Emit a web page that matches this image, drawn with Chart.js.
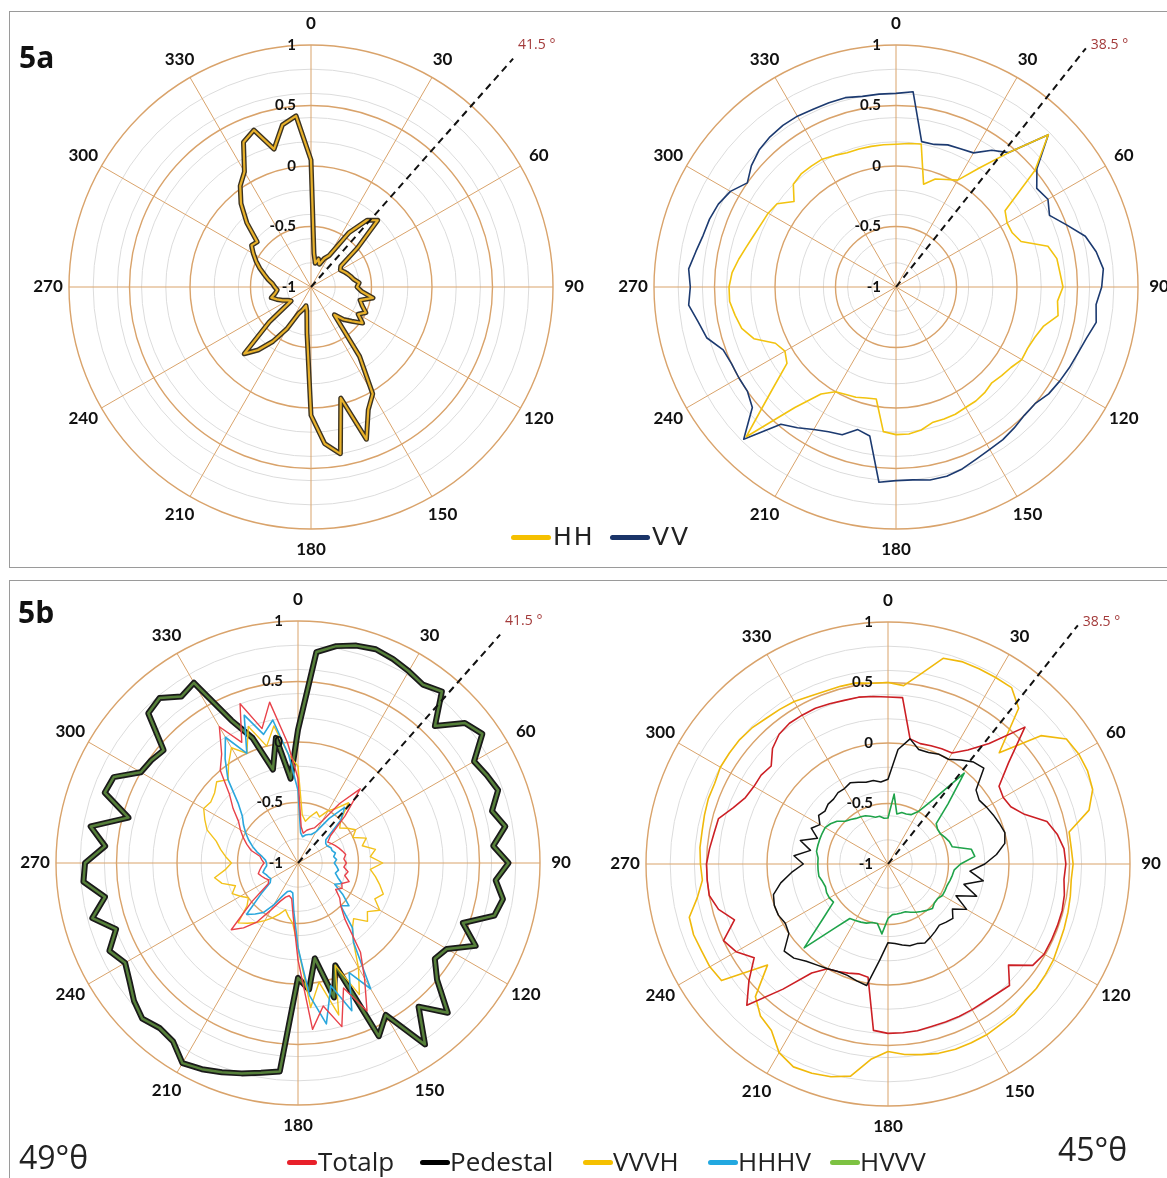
<!DOCTYPE html>
<html>
<head>
<meta charset="utf-8">
<script src="https://cdn.jsdelivr.net/npm/chart.js@4.4.0/dist/chart.umd.min.js"></script>
<style>
  body { margin: 0; width: 1167px; height: 1178px; overflow: hidden; background: #fff; position: relative; font-family: 'Open Sans', sans-serif; }
  .panel { position: absolute; border: 1px solid #9a9a9a; }
  canvas { position: absolute; }
  .tag { position: absolute; font-weight: 700; font-size: 30px; line-height: 1; color: #111; }
  .mk { position: absolute; height: 5px; border-radius: 3px; }
  .lgA { position: absolute; font-family: 'DejaVu Sans'; font-size: 25px; line-height: 1; letter-spacing: 2px; color: #222; }
  .lgB { position: absolute; font-size: 26px; line-height: 1; color: #222; }
  .theta { position: absolute; font-size: 32px; line-height: 1; color: #222; }
</style>
</head>
<body>
<div class="panel" style="left:9px;top:11px;width:1157px;height:555px"></div>
<div class="panel" style="left:9px;top:580px;width:1157px;height:620px"></div>

<canvas id="c5aLeft" width="560" height="560" style="left:31px;top:7px"></canvas>
<canvas id="c5aRight" width="560" height="560" style="left:616px;top:7px"></canvas>
<canvas id="c5bLeft" width="560" height="560" style="left:18px;top:583px"></canvas>
<canvas id="c5bRight" width="560" height="560" style="left:608px;top:584px"></canvas>

<div class="tag" style="left:19px;top:42px">5a</div>
<div class="tag" style="left:18px;top:597px">5b</div>

<div class="mk" style="left:511px;top:535px;width:40px;background:#f5c000"></div>
<span class="lgA" style="left:553px;top:524px">HH</span>
<div class="mk" style="left:610px;top:535px;width:40px;background:#1a3468"></div>
<span class="lgA" style="left:652px;top:524px">VV</span>

<div class="mk" style="left:287px;top:1160px;width:30px;background:#e8202a"></div>
<span class="lgB" style="left:318px;top:1148px">Totalp</span>
<div class="mk" style="left:420px;top:1160px;width:30px;background:#000"></div>
<span class="lgB" style="left:450px;top:1148px">Pedestal</span>
<div class="mk" style="left:583px;top:1160px;width:30px;background:#f5c000"></div>
<span class="lgB" style="left:613px;top:1148px">VVVH</span>
<div class="mk" style="left:708px;top:1160px;width:30px;background:#22a8e0"></div>
<span class="lgB" style="left:738px;top:1148px">HHHV</span>
<div class="mk" style="left:830px;top:1160px;width:30px;background:#7dc242"></div>
<span class="lgB" style="left:860px;top:1148px">HVVV</span>

<span class="theta" style="left:19px;top:1141px">49°θ</span>
<span class="theta" style="left:1058px;top:1133px">45°θ</span>

<script>
// azimuth categories, 5 degree steps
var angles = [0, 5, 10, 15, 20, 25, 30, 35, 40, 45, 50, 55,
  60, 65, 70, 75, 80, 85, 90, 95, 100, 105, 110, 115,
  120, 125, 130, 135, 140, 145, 150, 155, 160, 165, 170, 175,
  180, 185, 190, 195, 200, 205, 210, 215, 220, 225, 230, 235,
  240, 245, 250, 255, 260, 265, 270, 275, 280, 285, 290, 295,
  300, 305, 310, 315, 320, 325, 330, 335, 340, 345, 350, 355];
var angleTicks = [0, 30, 60, 90, 120, 150, 180, 210, 240, 270, 300, 330];
var radialTicks = [-1, -0.5, 0, 0.5, 1];

// 5a left (49 deg)
var hh5aLeft = [0.05, -0.72, -0.8, -0.76, -0.8, -0.74, -0.7, -0.45, -0.28, -0.22, -0.5, -0.7,
  -0.72, -0.7, -0.68, -0.66, -0.64, -0.6, -0.62, -0.58, -0.48, -0.58, -0.55, -0.5,
  -0.55, -0.48, -0.56, -0.62, -0.7, -0.3, 0.02, 0.12, 0.34, -0.05, 0.4, 0.3,
  0.06, -0.62, -0.8, -0.84, -0.8, -0.76, -0.6, -0.45, -0.32, -0.22, -0.55, -0.8,
  -0.78, -0.74, -0.7, -0.66, -0.7, -0.72, -0.7, -0.68, -0.64, -0.6, -0.55, -0.5,
  -0.45, -0.4, -0.42, -0.25, -0.1, 0.02, 0.1, 0.32, 0.38, 0.18, 0.36, 0.42];

// 5a right (45 deg)
var hh5aRight = [0.18, 0.19, 0.2, -0.12, -0.05, -0.02, 0.02, 0.2, 0.45, 0.78, 0.5, 0.1,
  0.06, 0.06, 0.1, 0.3, 0.35, 0.36, 0.38, 0.34, 0.36, 0.26, 0.22, 0.2,
  0.2, 0.16, 0.14, 0.12, 0.14, 0.15, 0.15, 0.16, 0.16, 0.16, 0.2, 0.22,
  0.22, 0.2, -0.06, -0.05, -0.03, -0.02, 0.0, 0.08, 0.3, 0.75, 0.35, 0.1,
  0.06, 0.1, 0.25, 0.32, 0.35, 0.38, 0.38, 0.36, 0.32, 0.28, 0.25, 0.23,
  0.22, 0.2, 0.1, 0.2, 0.22, 0.22, 0.22, 0.2, 0.18, 0.18, 0.18, 0.18];
var vv5aRight = [0.6, 0.62, 0.22, 0.22, 0.25, 0.26, 0.28, 0.38, 0.45, 0.78, 0.52, 0.42,
  0.45, 0.4, 0.5, 0.62, 0.68, 0.72, 0.7, 0.66, 0.68, 0.63, 0.6, 0.58,
  0.56, 0.54, 0.5, 0.5, 0.52, 0.54, 0.55, 0.57, 0.6, 0.62, 0.62, 0.6,
  0.6, 0.62, 0.25, 0.22, 0.3, 0.32, 0.36, 0.42, 0.48, 0.78, 0.55, 0.5,
  0.5, 0.5, 0.52, 0.62, 0.66, 0.72, 0.7, 0.72, 0.68, 0.65, 0.64, 0.62,
  0.58, 0.5, 0.56, 0.6, 0.62, 0.63, 0.63, 0.62, 0.62, 0.62, 0.6, 0.6];

// 5b left (49 deg)
var hvvv5bLeft = [0.1, 0.75, 0.82, 0.86, 0.88, 0.86, 0.83, 0.8, 0.85, 0.6, 0.8, 0.86,
  0.68, 0.72, 0.76, 0.66, 0.74, 0.62, 0.74, 0.64, 0.72, 0.68, 0.45, 0.62,
  0.42, 0.38, 0.5, 0.75, 0.55, 0.83, 0.45, 0.58, -0.1, 0.15, -0.2, 0.05,
  -0.05, 0.73, 0.76, 0.8, 0.84, 0.88, 0.91, 0.8, 0.78, 0.82, 0.77, 0.7,
  0.65, 0.72, 0.6, 0.76, 0.62, 0.78, 0.76, 0.6, 0.74, 0.45, 0.7, 0.68,
  0.5, 0.48, 0.45, 0.75, 0.78, 0.68, 0.72, 0.3, 0.1, -0.2, 0.05, -0.3];
var totalp5bLeft = [-0.3, -0.7, -0.75, -0.72, -0.7, -0.68, -0.6, -0.4, -0.2, -0.45, -0.65, -0.7,
  -0.68, -0.66, -0.64, -0.62, -0.6, -0.62, -0.6, -0.62, -0.58, -0.6, -0.55, -0.6,
  -0.58, -0.62, -0.55, -0.5, -0.4, -0.1, 0.1, 0.35, 0.1, 0.4, 0.2, 0.38,
  -0.2, -0.55, -0.7, -0.72, -0.7, -0.65, -0.55, -0.4, -0.3, -0.22, -0.5, -0.7,
  -0.72, -0.7, -0.68, -0.66, -0.68, -0.7, -0.72, -0.7, -0.68, -0.6, -0.55, -0.5,
  -0.45, -0.4, -0.3, -0.2, 0.0, 0.1, 0.3, 0.1, 0.4, 0.15, 0.35, 0.0];
var vvvh5bLeft = [-0.2, -0.6, -0.65, -0.6, -0.55, -0.58, -0.5, -0.45, -0.35, -0.5, -0.55, -0.5,
  -0.45, -0.5, -0.4, -0.45, -0.35, -0.4, -0.3, -0.4, -0.35, -0.3, -0.25, -0.3,
  -0.22, -0.3, -0.25, -0.35, -0.3, -0.2, 0.0, 0.2, -0.1, 0.3, 0.0, 0.2,
  -0.3, -0.5, -0.55, -0.6, -0.55, -0.5, -0.45, -0.4, -0.35, -0.3, -0.45, -0.5,
  -0.45, -0.4, -0.45, -0.35, -0.3, -0.4, -0.45, -0.4, -0.35, -0.3, -0.2, -0.15,
  -0.1, -0.12, -0.1, -0.05, -0.1, 0.0, 0.1, 0.0, 0.2, 0.0, 0.15, -0.1];
var hhhv5bLeft = [-0.4, -0.75, -0.78, -0.76, -0.75, -0.74, -0.7, -0.55, -0.4, -0.5, -0.7, -0.72,
  -0.72, -0.7, -0.7, -0.68, -0.7, -0.68, -0.7, -0.68, -0.66, -0.68, -0.65, -0.6,
  -0.65, -0.55, -0.45, -0.5, -0.3, -0.2, 0.2, 0.0, 0.3, 0.05, 0.35, 0.1,
  -0.3, -0.6, -0.75, -0.76, -0.75, -0.7, -0.6, -0.5, -0.45, -0.4, -0.6, -0.72,
  -0.74, -0.73, -0.72, -0.7, -0.72, -0.74, -0.74, -0.73, -0.7, -0.65, -0.6, -0.55,
  -0.5, -0.45, -0.4, -0.3, -0.1, 0.05, 0.2, 0.0, 0.3, 0.1, 0.2, -0.1];

// 5b right (45 deg)
var totalp5bRight = [0.38, 0.38, 0.05, 0.03, 0.04, 0.05, 0.06, 0.15, 0.3, 0.6, 0.3, 0.12,
  0.1, 0.12, 0.2, 0.36, 0.42, 0.46, 0.47, 0.46, 0.48, 0.49, 0.49, 0.49,
  0.49, 0.46, 0.3, 0.42, 0.4, 0.39, 0.39, 0.39, 0.39, 0.39, 0.4, 0.4,
  0.4, 0.38, -0.05, -0.06, -0.04, -0.02, 0.0, 0.1, 0.35, 0.65, 0.5, 0.35,
  0.45, 0.5, 0.35, 0.45, 0.5, 0.5, 0.5, 0.48, 0.46, 0.45, 0.36, 0.3,
  0.28, 0.28, 0.26, 0.35, 0.4, 0.42, 0.42, 0.42, 0.41, 0.4, 0.4, 0.39];
var vvvh5bRight = [0.5, 0.48, 0.6, 0.76, 0.78, 0.78, 0.78, 0.78, 0.68, 0.3, 0.65, 0.8,
  0.82, 0.82, 0.8, 0.72, 0.52, 0.52, 0.53, 0.52, 0.53, 0.54, 0.55, 0.56,
  0.58, 0.59, 0.6, 0.6, 0.62, 0.62, 0.63, 0.63, 0.63, 0.62, 0.6, 0.58,
  0.55, 0.62, 0.78, 0.82, 0.84, 0.85, 0.8, 0.68, 0.64, 0.55, 0.3, 0.68,
  0.7, 0.7, 0.71, 0.7, 0.6, 0.54, 0.55, 0.56, 0.56, 0.57, 0.58, 0.58,
  0.6, 0.6, 0.6, 0.59, 0.57, 0.56, 0.55, 0.53, 0.52, 0.52, 0.52, 0.5];
var pedestal5bRight = [-0.3, -0.05, 0.05, -0.02, -0.02, 0.0, 0.0, 0.05, 0.1, 0.12, -0.05, -0.08,
  -0.06, -0.04, -0.02, 0.0, -0.02, -0.1, -0.2, -0.32, -0.2, -0.35, -0.22, -0.38,
  -0.25, -0.35, -0.3, -0.32, -0.34, -0.32, -0.3, -0.28, -0.3, -0.3, -0.32, -0.34,
  -0.35, -0.2, 0.02, 0.0, -0.02, -0.02, 0.0, 0.02, 0.05, 0.1, 0.12, 0.0,
  -0.02, 0.0, 0.0, -0.02, -0.1, -0.2, -0.3, -0.22, -0.35, -0.25, -0.38, -0.3,
  -0.35, -0.3, -0.32, -0.3, -0.3, -0.28, -0.28, -0.26, -0.28, -0.3, -0.3, -0.32];
var hvvv5bRight = [-0.62, -0.42, -0.58, -0.56, -0.56, -0.55, -0.5, -0.35, -0.02, -0.3, -0.48, -0.5,
  -0.5, -0.48, -0.46, -0.45, -0.3, -0.28, -0.4, -0.45, -0.46, -0.47, -0.48, -0.48,
  -0.48, -0.5, -0.5, -0.48, -0.5, -0.52, -0.54, -0.56, -0.58, -0.58, -0.58, -0.58,
  -0.55, -0.42, -0.5, -0.5, -0.48, -0.47, -0.46, -0.45, -0.3, -0.02, -0.3, -0.45,
  -0.44, -0.44, -0.45, -0.44, -0.42, -0.42, -0.42, -0.42, -0.4, -0.4, -0.4, -0.4,
  -0.4, -0.42, -0.45, -0.5, -0.52, -0.54, -0.55, -0.56, -0.58, -0.6, -0.6, -0.62];

var ORANGE = '#d9a36b';
var GRAY = '#dcdcdc';

// dashed ray, azimuth labels and radial labels
var polarDecor = {
  id: 'polarDecor',
  afterDatasetsDraw: function (chart, args, opts) {
    var s = chart.scales.r, ctx = chart.ctx;
    var step = 360 / angles.length;
    ctx.save();
    // dashed ray
    var end = s.getPointPosition(opts.ray / step, 305);
    ctx.strokeStyle = '#111';
    ctx.lineWidth = 2;
    ctx.setLineDash([7, 5]);
    ctx.beginPath();
    ctx.moveTo(s.xCenter, s.yCenter);
    ctx.lineTo(end.x, end.y);
    ctx.stroke();
    ctx.setLineDash([]);
    ctx.fillStyle = '#a33a3a';
    ctx.font = '14px "Open Sans"';
    ctx.textAlign = 'left';
    ctx.textBaseline = 'middle';
    ctx.fillText(opts.ray + ' °', end.x + 5, s.yCenter - 242);
    // azimuth labels
    ctx.fillStyle = '#111';
    ctx.font = 'bold 17px Lato';
    ctx.textAlign = 'center';
    angleTicks.forEach(function (a) {
      var p = s.getPointPosition(a / step, s.drawingArea + 21);
      ctx.fillText(String(a), p.x, p.y);
    });
    // radial labels
    ctx.font = 'bold 15px Lato';
    ctx.textAlign = 'right';
    radialTicks.forEach(function (v) {
      var d = s.getDistanceFromCenterForValue(v);
      ctx.fillText(String(v), s.xCenter - 15, s.yCenter - d);
    });
    ctx.restore();
  }
};

function line(label, data, color, width) {
  return { label: label, data: data, borderColor: color, borderWidth: width, fill: false,
    pointRadius: 0, borderJoinStyle: 'round' };
}

function polarChart(id, datasets, ray) {
  return new Chart(document.getElementById(id), {
    type: 'radar',
    data: { labels: angles, datasets: datasets },
    options: {
      responsive: false,
      animation: false,
      devicePixelRatio: 1,
      layout: { padding: 38 },
      elements: { line: { tension: 0 } },
      plugins: { legend: { display: false }, tooltip: { enabled: false }, polarDecor: { ray: ray } },
      scales: {
        r: {
          min: -1, max: 1,
          ticks: { display: false, stepSize: 0.1 },
          pointLabels: { display: false },
          grid: {
            circular: true,
            color: function (c) {
              var k = Math.round(c.tick.value * 10);
              if (k % 5 === 0) return ORANGE;
              if (k % 2 === 0) return GRAY;
              return 'rgba(0,0,0,0)';
            },
            lineWidth: function (c) {
              return Math.round(c.tick.value * 10) % 5 === 0 ? 1.4 : 1;
            }
          },
          angleLines: {
            color: function (c) { return c.index % 6 === 0 ? ORANGE : 'rgba(0,0,0,0)'; },
            lineWidth: 1
          }
        }
      }
    },
    plugins: [polarDecor]
  });
}

polarChart('c5aLeft', [
  line('HH', hh5aLeft, '#e8b12a', 2.2),
  line('HH outline', hh5aLeft, '#3c3322', 5)
], 41.5);

polarChart('c5aRight', [
  line('HH', hh5aRight, '#f2c30f', 1.6),
  line('VV', vv5aRight, '#1c3a70', 1.6)
], 38.5);

polarChart('c5bLeft', [
  line('Totalp', totalp5bLeft, '#e8424a', 1.4),
  line('HHHV', hhhv5bLeft, '#2ba7dd', 1.6),
  line('VVVH', vvvh5bLeft, '#f3c21b', 1.4),
  line('HVVV', hvvv5bLeft, '#56803a', 2.5),
  line('HVVV outline', hvvv5bLeft, '#1a1a1a', 6)
], 41.5);

polarChart('c5bRight', [
  line('HVVV', hvvv5bRight, '#1fa34a', 1.6),
  line('Pedestal', pedestal5bRight, '#111111', 1.5),
  line('Totalp', totalp5bRight, '#cc1f24', 1.6),
  line('VVVH', vvvh5bRight, '#f0b90b', 1.6)
], 38.5);
</script>
</body>
</html>
